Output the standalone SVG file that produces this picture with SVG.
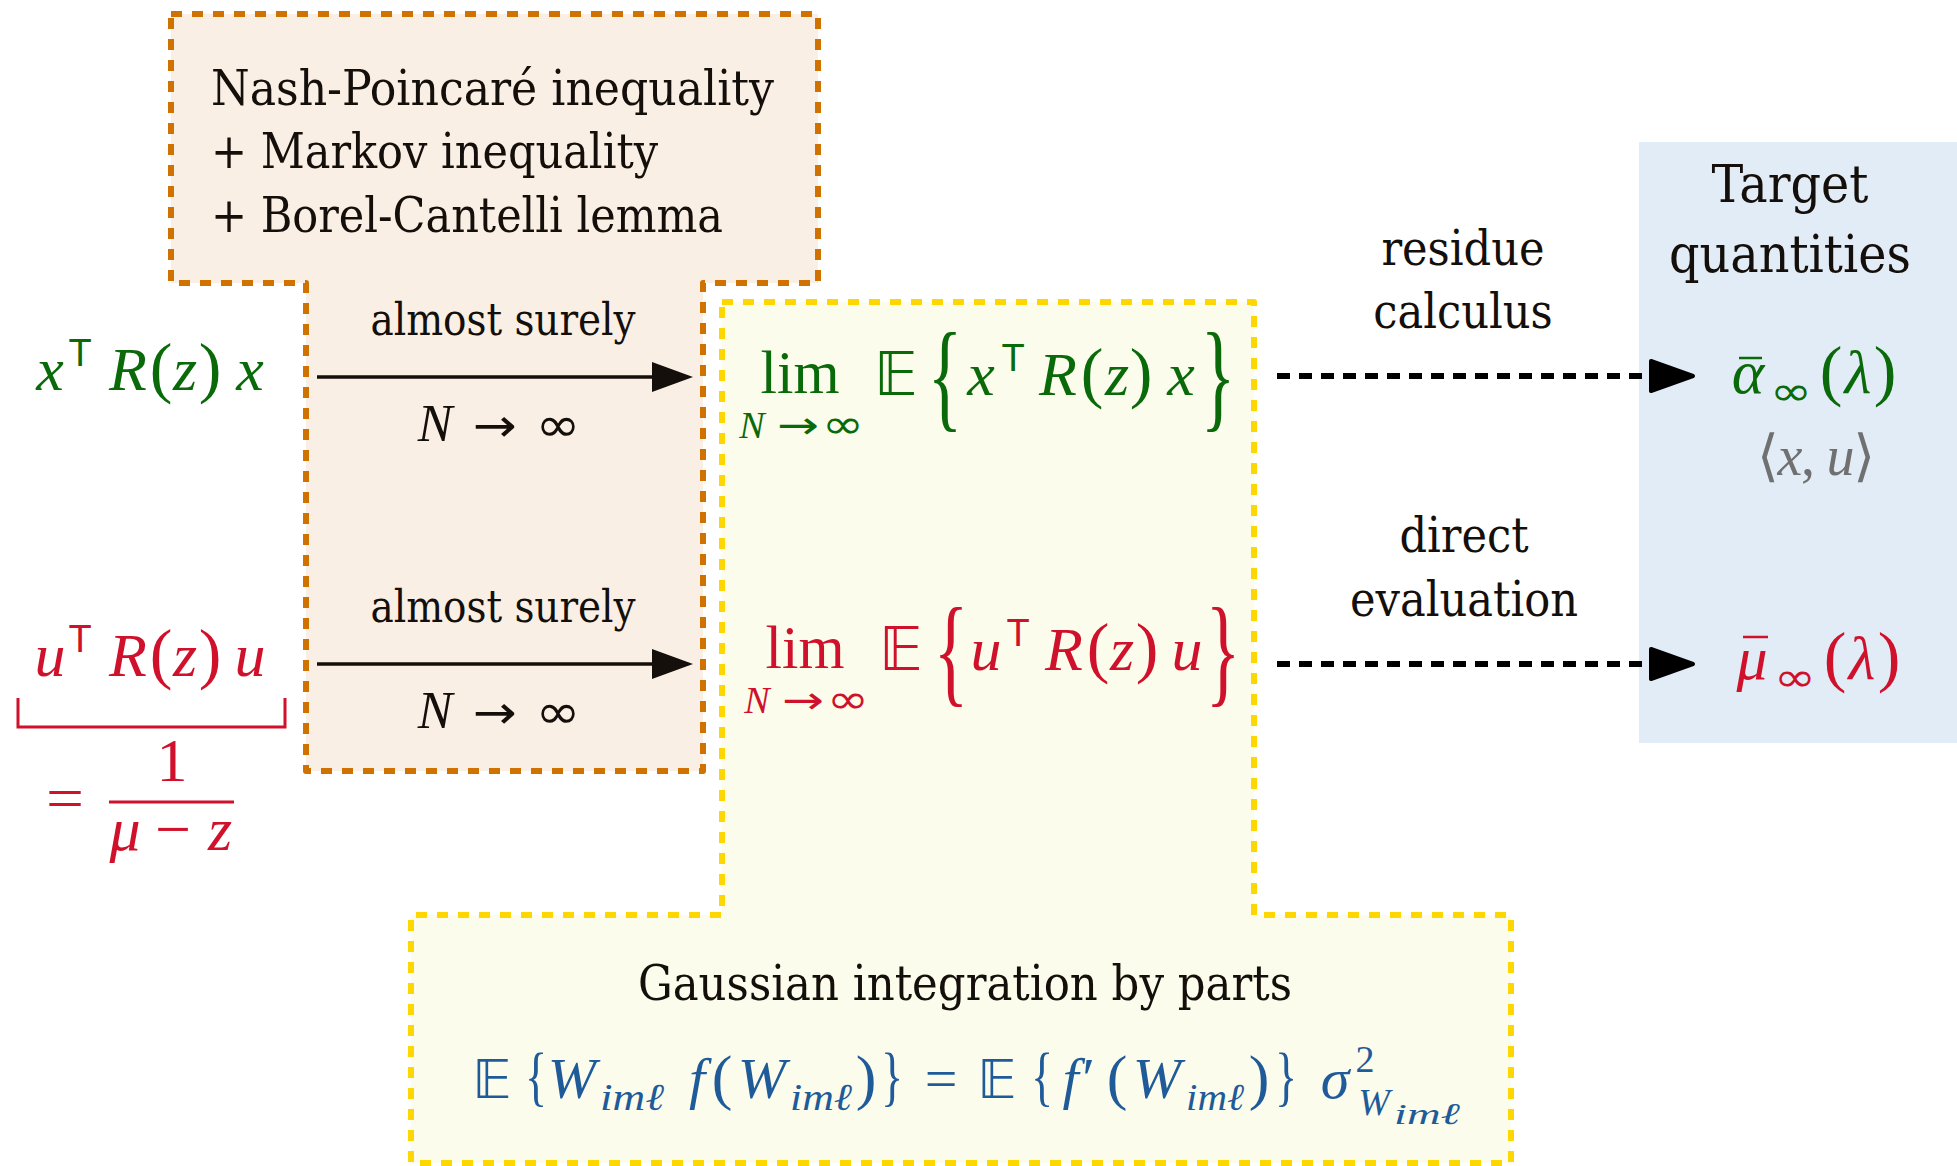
<svg xmlns="http://www.w3.org/2000/svg" width="1957" height="1166" viewBox="0 0 1957 1166">
<defs>
<style>
.txt{font-family:"DejaVu Serif Condensed","DejaVu Serif","Liberation Serif",serif;font-stretch:condensed;fill:#140f0a}
.m{font-family:"Liberation Serif","DejaVu Serif",serif}
.m text{text-anchor:middle}
.i{font-style:italic}
.sf{font-family:"Liberation Sans","DejaVu Sans",sans-serif}
.bb{font-family:"DejaVu Sans","DejaVu Serif",sans-serif}
.sym{font-family:"DejaVu Sans","DejaVu Serif",sans-serif}
.st{text-anchor:start !important}
.g{fill:#0a6a0a}
.r{fill:#d0112b}
.b{fill:#1f5a99}
.k{fill:#140f0a}
.gr{fill:#707070}
.dashO{fill:none;stroke:#d07200;stroke-width:6;stroke-dasharray:11 10;stroke-linejoin:round}
.dashY{fill:none;stroke:#ffd700;stroke-width:6;stroke-dasharray:11 10;stroke-linejoin:round}
.solid{stroke:#140f0a;stroke-width:3.5}
.dotted{stroke:#000;stroke-width:6;stroke-dasharray:13 9}
</style>
<marker id="headSolid" markerUnits="userSpaceOnUse" markerWidth="42" markerHeight="32" refX="0" refY="16" orient="auto" viewBox="0 0 42 32">
<path d="M0,1 L41,16 L0,31 Z" fill="#140f0a"/>
</marker>
<marker id="headDash" markerUnits="userSpaceOnUse" markerWidth="48" markerHeight="36" refX="2" refY="18" orient="auto" viewBox="0 0 48 36">
<path d="M3,3 L45,18 L3,33 Z" fill="#000" stroke="#000" stroke-width="4" stroke-linejoin="round"/>
</marker>
</defs>
<rect width="1957" height="1166" fill="#fff"/>

<g id="node-asymptotic">
<rect x="171" y="14" width="647" height="269" fill="#faefe5"/>
<rect x="306" y="283" width="397" height="488" fill="#faefe5"/>
<path class="dashO" d="M171,14 H818 V283 H703 V771 H306 V283 H171 Z"/>
<text class="txt" font-size="49" x="211" y="105" textLength="563" lengthAdjust="spacingAndGlyphs">Nash-Poincaré inequality</text>
<text class="txt" font-size="49" x="211" y="168" textLength="447" lengthAdjust="spacingAndGlyphs">+ Markov inequality</text>
<text class="txt" font-size="49" x="211" y="232" textLength="512" lengthAdjust="spacingAndGlyphs">+ Borel-Cantelli lemma</text>
</g>

<g id="node-expectation">
<rect x="722" y="302" width="532" height="613" fill="#fbfcec"/>
<rect x="411" y="915" width="1100" height="248" fill="#fbfcec"/>
<path class="dashY" d="M722,302 H1254 V915 H1511 V1163 H411 V915 H722 Z"/>
<text class="txt" font-size="48" x="638" y="1000" textLength="654" lengthAdjust="spacingAndGlyphs">Gaussian integration by parts</text>
<g class="m b" font-size="58">
<text class="bb" x="492" y="1098" font-size="54">𝔼</text>
<text transform="translate(536,1098) scale(0.7,1)" font-size="66">{</text>
<text class="i" x="572" y="1098">W</text>
<text class="i st" x="600" y="1110" font-size="38" textLength="64" lengthAdjust="spacingAndGlyphs">imℓ</text>
<text class="i" x="697" y="1098">f</text>
<text x="722" y="1098" font-size="62">(</text>
<text class="i" x="762" y="1098">W</text>
<text class="i st" x="790" y="1110" font-size="38" textLength="62" lengthAdjust="spacingAndGlyphs">imℓ</text>
<text x="866" y="1098" font-size="62">)</text>
<text transform="translate(892,1098) scale(0.7,1)" font-size="66">}</text>
<text x="941" y="1098">=</text>
<text class="bb" x="997" y="1098" font-size="54">𝔼</text>
<text transform="translate(1042,1098) scale(0.7,1)" font-size="66">{</text>
<text class="i" x="1077" y="1098">f′</text>
<text x="1117" y="1098" font-size="62">(</text>
<text class="i" x="1157" y="1098">W</text>
<text class="i st" x="1186" y="1110" font-size="38" textLength="58" lengthAdjust="spacingAndGlyphs">imℓ</text>
<text x="1259" y="1098" font-size="62">)</text>
<text transform="translate(1286,1098) scale(0.7,1)" font-size="66">}</text>
<text class="i" x="1335" y="1098">σ</text>
<text x="1365" y="1072" font-size="38">2</text>
<text class="i" x="1374" y="1115" font-size="38">W</text>
<text class="i st" x="1394" y="1124" font-size="30" textLength="66" lengthAdjust="spacingAndGlyphs">imℓ</text>
</g>
<g class="m g" font-size="62">
<text x="800" y="393" textLength="79" lengthAdjust="spacingAndGlyphs">lim</text>
<text class="i" x="752" y="438" font-size="38">N</text>
<text class="sym" x="798" y="438" font-size="38" textLength="42" lengthAdjust="spacingAndGlyphs">→</text>
<text class="sym" x="843" y="438" font-size="40" textLength="42" lengthAdjust="spacingAndGlyphs">∞</text>
<text class="bb" x="896" y="395" font-size="60">𝔼</text>
<text transform="translate(945,416) scale(0.6,1)" font-size="120">{</text>
<text class="i" x="981" y="395">x</text>
<text class="sf" x="1013" y="371" font-size="38">T</text>
<text class="i" x="1058" y="395">R</text>
<text x="1092" y="395" font-size="68">(</text>
<text class="i" x="1117" y="395">z</text>
<text x="1141" y="395" font-size="68">)</text>
<text class="i" x="1181" y="395">x</text>
<text transform="translate(1218,416) scale(0.6,1)" font-size="120">}</text>
</g>
<g class="m r" font-size="62">
<text x="805" y="668" textLength="79" lengthAdjust="spacingAndGlyphs">lim</text>
<text class="i" x="757" y="713" font-size="38">N</text>
<text class="sym" x="803" y="713" font-size="38" textLength="42" lengthAdjust="spacingAndGlyphs">→</text>
<text class="sym" x="848" y="713" font-size="40" textLength="42" lengthAdjust="spacingAndGlyphs">∞</text>
<text class="bb" x="901" y="670" font-size="60">𝔼</text>
<text transform="translate(951,691) scale(0.6,1)" font-size="120">{</text>
<text class="i" x="986" y="670">u</text>
<text class="sf" x="1018" y="646" font-size="38">T</text>
<text class="i" x="1064" y="670">R</text>
<text x="1098" y="670" font-size="68">(</text>
<text class="i" x="1122" y="670">z</text>
<text x="1147" y="670" font-size="68">)</text>
<text class="i" x="1187" y="670">u</text>
<text transform="translate(1223,691) scale(0.6,1)" font-size="120">}</text>
</g>
</g>

<g id="node-target">
<rect x="1639" y="142" width="318" height="601" fill="#e1ecf6"/>
<text class="txt" font-size="53" x="1790" y="202" text-anchor="middle">Target</text>
<text class="txt" font-size="53" x="1790" y="272" text-anchor="middle">quantities</text>
<g class="m g" font-size="62">
<text class="i" x="1748" y="393">α</text>
<line x1="1739" y1="358" x2="1762" y2="358" stroke="#0a6a0a" stroke-width="2.5"/>
<text class="sym" x="1791" y="405" font-size="40" textLength="42" lengthAdjust="spacingAndGlyphs">∞</text>
<text x="1831" y="393" font-size="68">(</text>
<text class="i" x="1858" y="393">λ</text>
<text x="1885" y="393" font-size="68">)</text>
</g>
<text class="m gr" font-size="56" x="1757" y="475" textLength="118" lengthAdjust="spacing">⟨<tspan class="i">x</tspan>, <tspan class="i">u</tspan>⟩</text>
<g class="m r" font-size="62">
<text class="i" x="1752" y="679">μ</text>
<line x1="1743" y1="637" x2="1768" y2="637" stroke="#d0112b" stroke-width="2.5"/>
<text class="sym" x="1795" y="691" font-size="40" textLength="42" lengthAdjust="spacingAndGlyphs">∞</text>
<text x="1835" y="679" font-size="68">(</text>
<text class="i" x="1862" y="679">λ</text>
<text x="1889" y="679" font-size="68">)</text>
</g>
</g>

<g id="node-xRx">
<g class="m g" font-size="62">
<text class="i" x="50" y="390">x</text>
<text class="sf" x="80" y="366" font-size="38">T</text>
<text class="i" x="128" y="390">R</text>
<text x="161" y="390" font-size="68">(</text>
<text class="i" x="185" y="390">z</text>
<text x="210" y="390" font-size="68">)</text>
<text class="i" x="250" y="390">x</text>
</g>
</g>

<g id="node-uRu">
<g class="m r" font-size="62">
<text class="i" x="50" y="676">u</text>
<text class="sf" x="80" y="652" font-size="38">T</text>
<text class="i" x="128" y="676">R</text>
<text x="161" y="676" font-size="68">(</text>
<text class="i" x="185" y="676">z</text>
<text x="210" y="676" font-size="68">)</text>
<text class="i" x="250" y="676">u</text>
<path d="M18,698 V727 H285 V698" fill="none" stroke="#d0112b" stroke-width="3"/>
<text x="65" y="819" textLength="38" lengthAdjust="spacingAndGlyphs">=</text>
<line x1="109" y1="802" x2="234" y2="802" stroke="#d0112b" stroke-width="3"/>
<text x="172" y="781">1</text>
<text class="i" x="125" y="850">μ</text>
<text x="173" y="850" textLength="36" lengthAdjust="spacingAndGlyphs">−</text>
<text class="i" x="220" y="850">z</text>
</g>
</g>

<g id="connectors">
<line class="solid" x1="317" y1="377" x2="652" y2="377" marker-end="url(#headSolid)"/>
<line class="solid" x1="317" y1="664" x2="652" y2="664" marker-end="url(#headSolid)"/>
<text class="txt" font-size="44" x="503" y="335" text-anchor="middle" textLength="265" lengthAdjust="spacingAndGlyphs">almost surely</text>
<text class="txt" font-size="44" x="503" y="622" text-anchor="middle" textLength="265" lengthAdjust="spacingAndGlyphs">almost surely</text>
<g class="m k" font-size="52">
<text class="i" x="435" y="441">N</text>
<text class="sym" x="495" y="441" font-size="46" textLength="44" lengthAdjust="spacingAndGlyphs">→</text>
<text class="sym" x="558" y="441" font-size="48" textLength="45" lengthAdjust="spacingAndGlyphs">∞</text>
<text class="i" x="435" y="728">N</text>
<text class="sym" x="495" y="728" font-size="46" textLength="44" lengthAdjust="spacingAndGlyphs">→</text>
<text class="sym" x="558" y="728" font-size="48" textLength="45" lengthAdjust="spacingAndGlyphs">∞</text>
</g>
<line class="dotted" x1="1277" y1="376" x2="1650" y2="376" marker-end="url(#headDash)"/>
<line class="dotted" x1="1277" y1="664" x2="1650" y2="664" marker-end="url(#headDash)"/>
<text class="txt" font-size="48" x="1463" y="265" text-anchor="middle">residue</text>
<text class="txt" font-size="48" x="1463" y="328" text-anchor="middle">calculus</text>
<text class="txt" font-size="48" x="1464" y="552" text-anchor="middle">direct</text>
<text class="txt" font-size="48" x="1464" y="616" text-anchor="middle">evaluation</text>
</g>
</svg>
